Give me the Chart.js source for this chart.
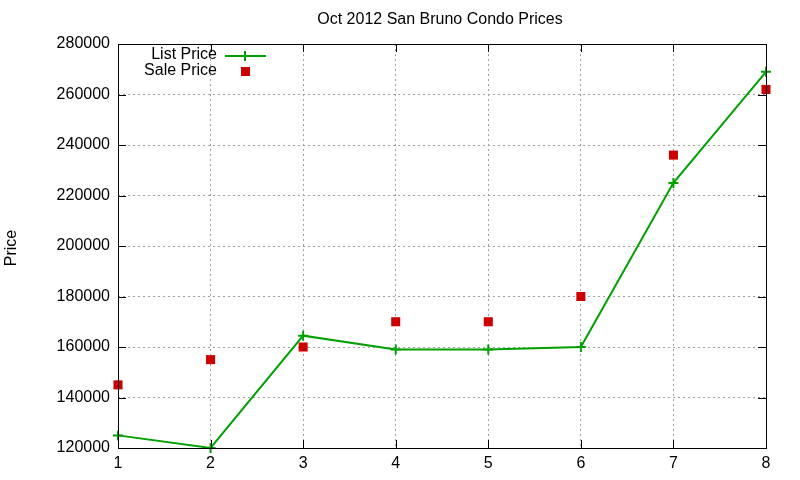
<!DOCTYPE html>
<html>
<head>
<meta charset="utf-8">
<script src="https://cdn.jsdelivr.net/npm/chart.js@4"></script>
<style>
  html, body { margin: 0; padding: 0; background: #fff; }
  #wrap { width: 800px; height: 480px; }
</style>
</head>
<body>
<div id="wrap"><canvas id="myChart" width="800" height="480"></canvas></div>
<script>
// values
const months = [1, 2, 3, 4, 5, 6, 7, 8];
const listPrice = [125000, 120000, 164500, 159000, 159000, 160000, 225000, 269000];
const salePrice = [145000, 155000, 160000, 170000, 170000, 180000, 236000, 262000];
const yTicks = [120000, 140000, 160000, 180000, 200000, 220000, 240000, 260000, 280000];

const titleText = 'Oct 2012 San Bruno Condo Prices';
const yLabel = 'Price';
const FONT = '"Liberation Sans", Arial, sans-serif';

const ctx = document.getElementById('myChart');

// gnuplot-like frame, inward ticks, title, y label and legend
const gnuplotBits = {
    id: 'gnuplotBits',
    afterDraw(chart) {
        const c = chart.ctx;
        const a = chart.chartArea;
        const xs = chart.scales.x, ys = chart.scales.y;
        c.save();
        c.strokeStyle = '#000';
        c.lineWidth = 1;
        // tick marks pointing inward, mirrored
        c.beginPath();
        yTicks.forEach(v => {
            const y = Math.round(ys.getPixelForValue(v)) + 0.5;
            c.moveTo(a.left, y); c.lineTo(a.left + 8, y);
            c.moveTo(a.right, y); c.lineTo(a.right - 8, y);
        });
        months.forEach(v => {
            const x = Math.round(xs.getPixelForValue(v)) + 0.5;
            c.moveTo(x, a.bottom); c.lineTo(x, a.bottom - 8);
            c.moveTo(x, a.top); c.lineTo(x, a.top + 8);
        });
        c.stroke();
        // frame
        c.strokeRect(Math.round(a.left) + 0.5, Math.round(a.top) + 0.5,
                     Math.round(a.right - a.left), Math.round(a.bottom - a.top));

        // title
        c.fillStyle = '#000';
        c.font = '16px ' + FONT;
        c.textAlign = 'center';
        c.textBaseline = 'middle';
        c.fillText(titleText, 440, 20);

        // y axis label
        c.save();
        c.translate(12, 248);
        c.rotate(-Math.PI / 2);
        c.font = '16px ' + FONT;
        c.fillText(yLabel, 0, 0);
        c.restore();

        // legend
        const ds = chart.data.datasets;
        c.font = '16px ' + FONT;
        c.textAlign = 'right';
        c.fillText(ds[0].label, 217, 55);
        c.fillText(ds[1].label, 217, 71);
        c.strokeStyle = ds[0].borderColor;
        c.lineWidth = 2;
        c.beginPath();
        c.moveTo(225, 56); c.lineTo(266, 56);
        c.moveTo(245, 51); c.lineTo(245, 61);
        c.stroke();
        c.fillStyle = ds[1].backgroundColor;
        c.fillRect(241, 67, 9, 9);
        c.restore();
    }
};

new Chart(ctx, {
    type: 'scatter',
    data: {
        datasets: [{
            label: 'List Price',
            data: months.map((m, i) => ({ x: m, y: listPrice[i] })),
            showLine: true,
            borderColor: '#00a000',
            backgroundColor: '#00a000',
            borderWidth: 2,
            pointStyle: 'cross',
            pointRadius: 5,
            pointBorderWidth: 2,
            clip: false
        }, {
            label: 'Sale Price',
            data: months.map((m, i) => ({ x: m, y: salePrice[i] })),
            showLine: false,
            borderColor: '#cc0000',
            backgroundColor: '#cc0000',
            pointStyle: 'rect',
            pointRadius: 6.4,
            pointBorderWidth: 0,
            clip: false
        }]
    },
    options: {
        responsive: false,
        animation: false,
        layout: { padding: { left: 0, top: 44, right: 34, bottom: 0 } },
        plugins: {
            legend: { display: false },
            title: { display: false },
            tooltip: { enabled: false }
        },
        scales: {
            x: {
                type: 'linear',
                min: 1,
                max: 8,
                afterFit: s => { s.height = 32; },
                border: { display: false, dash: [2, 3] },
                grid: { color: '#a0a0a0', drawTicks: false },
                ticks: {
                    stepSize: 1,
                    padding: 6,
                    color: '#000',
                    font: { family: FONT, size: 16 }
                }
            },
            y: {
                min: 120000,
                max: 280000,
                afterFit: s => { s.width = 118; },
                afterBuildTicks: s => { s.ticks = yTicks.map(v => ({ value: v })); },
                border: { display: false, dash: [2, 3] },
                grid: { color: '#a0a0a0', drawTicks: false },
                ticks: {
                    padding: 8,
                    color: '#000',
                    font: { family: FONT, size: 16 },
                    callback: v => String(v)
                }
            }
        }
    },
    plugins: [gnuplotBits]
});
</script>
</body>
</html>
